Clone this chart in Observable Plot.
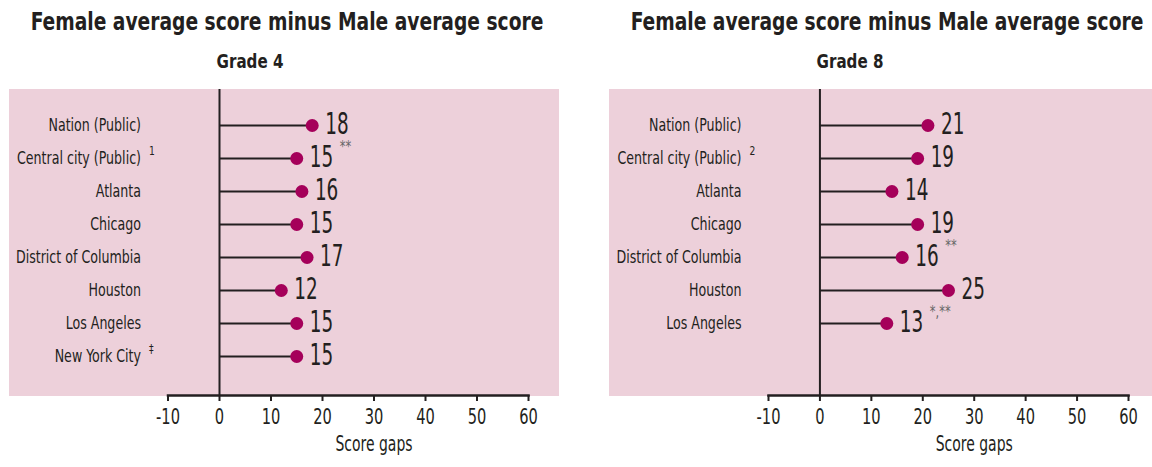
<!DOCTYPE html>
<html>
<head>
<meta charset="utf-8">
<script src="https://cdn.jsdelivr.net/npm/d3@7"></script>
<script src="https://cdn.jsdelivr.net/npm/@observablehq/plot@0.6"></script>
<style>
  html, body { margin: 0; padding: 0; background: #fff; }
  body { width: 1152px; height: 467px; position: relative; overflow: hidden;
         font-family: "DejaVu Sans Condensed", "DejaVu Sans", sans-serif; color: #231f20; }
  .panel { position: absolute; top: 0; width: 576px; height: 467px; }
  .bg { position: absolute; top: 89px; height: 307px; background: #edd0da; }
  .title { position: absolute; top: 7px; width: 700px; text-align: center; font-weight: bold; font-size: 25px; white-space: nowrap;
           transform: translateX(-50%) scaleX(0.83); }
  .sub { position: absolute; top: 49px; width: 200px; text-align: center; font-weight: bold; font-size: 20px; white-space: nowrap;
         transform: translateX(-50%) scaleX(0.84); }
  .chart { position: absolute; top: 89px; left: 0; line-height: 0; }
  .chart svg { display: block; background: transparent !important; overflow: visible; }
</style>
</head>
<body>
<div class="panel" id="p4" style="left:0">
  <div class="bg" style="left:9px; width:550px"></div>
  <div class="title" style="left:287px">Female average score minus Male average score</div>
  <div class="sub" style="left:250px">Grade 4</div>
  <div class="chart"></div>
</div>
<div class="panel" id="p8" style="left:576px">
  <div class="bg" style="left:33px; width:543px"></div>
  <div class="title" style="left:311px">Female average score minus Male average score</div>
  <div class="sub" style="left:274px">Grade 8</div>
  <div class="chart"></div>
</div>
<script>
// ---- data ----
const grade4Names = ["Nation (Public)", "Central city (Public)", "Atlanta", "Chicago", "District of Columbia", "Houston", "Los Angeles", "New York City"];
const grade4Gaps  = [18, 15, 16, 15, 17, 12, 15, 15];
const grade4NameNotes = ["", "1", "", "", "", "", "", "‡"];
const grade4GapNotes  = ["", "**", "", "", "", "", "", ""];

const grade8Names = ["Nation (Public)", "Central city (Public)", "Atlanta", "Chicago", "District of Columbia", "Houston", "Los Angeles"];
const grade8Gaps  = [21, 19, 14, 19, 16, 25, 13];
const grade8NameNotes = ["", "2", "", "", "", "", ""];
const grade8GapNotes  = ["", "", "", "", "**", "", "*,**"];

const xTicks = [-10, 0, 10, 20, 30, 40, 50, 60];
const xDomain = [-10, 60];
const axisTitle = "Score gaps";
const axisTitleAt = 30;

const INK = "#231f20";
const DOT = "#a5005a";
const FONT = "'DejaVu Sans Condensed', 'DejaVu Sans', sans-serif";

// narrow the glyphs of each text group (keeps the anchor point fixed)
function condense(svg) {
  svg.querySelectorAll("g[font-size]").forEach(g => {
    const fs = +g.getAttribute("font-size");
    const k = fs >= 26 ? 0.66 : fs >= 20 ? 0.74 : fs >= 16 ? 0.78 : 0.85;
    g.querySelectorAll("text").forEach(t => {
      const tr = t.getAttribute("transform") || "";
      t.setAttribute("transform", tr + ` scale(${k},1)`);
    });
  });
  return svg;
}

function makeChart(names, gaps, nameNotes, gapNotes, marginLeft, marginRight) {
  const rows = names.map((n, i) => ({name: n, gap: gaps[i], nameNote: nameNotes[i], gapNote: gapNotes[i]}));
  const step = 33.9;
  const y0 = 33;
  const svg = Plot.plot({
    width: 576,
    height: 378,
    marginTop: 0,
    marginBottom: 72,
    marginLeft,
    marginRight,
    style: {fontFamily: FONT, color: INK, background: "transparent", overflow: "visible"},
    x: {domain: xDomain, ticks: xTicks},
    y: {type: "point", padding: 0, domain: names, range: [y0, y0 + step * (names.length - 1)]},
    marks: [
      Plot.ruleX([0], {stroke: INK, strokeWidth: 2}),
      Plot.frame({anchor: "bottom", stroke: INK, strokeWidth: 2.5}),
      Plot.axisX({ticks: xTicks, tickSize: 6, tickPadding: 7, tickFormat: d => String(d), fontSize: 22, stroke: INK, strokeWidth: 2, fill: INK, label: null}),
      Plot.text([axisTitle], {x: () => axisTitleAt, frameAnchor: "bottom", dy: 55, text: d => d, fontSize: 21, fill: INK}),
      Plot.axisY({tickSize: 0, tickPadding: 27, fontSize: 18, fill: INK, label: null}),
      Plot.text(rows.filter(d => d.nameNote), {x: () => xDomain[0], y: "name", text: "nameNote", textAnchor: "start", dx: -19, dy: -7, fontSize: 12, fill: INK}),
      Plot.ruleY(rows, {y: "name", x1: () => 0, x2: "gap", stroke: INK, strokeWidth: 2}),
      Plot.dot(rows, {x: "gap", y: "name", r: 6.5, fill: DOT, stroke: "none"}),
      Plot.text(rows, {x: "gap", y: "name", text: d => String(d.gap), textAnchor: "start", dx: 13, dy: -1, fontSize: 31, fill: INK}),
      Plot.text(rows.filter(d => d.gapNote), {x: "gap", y: "name", text: "gapNote", textAnchor: "start", dx: 43, dy: -11, fontSize: 15, fill: "#666"})
    ]
  });
  return condense(svg);
}

document.querySelector("#p4 .chart").append(makeChart(grade4Names, grade4Gaps, grade4NameNotes, grade4GapNotes, 167.5, 48));
document.querySelector("#p8 .chart").append(makeChart(grade8Names, grade8Gaps, grade8NameNotes, grade8GapNotes, 192, 24));
</script>
</body>
</html>
